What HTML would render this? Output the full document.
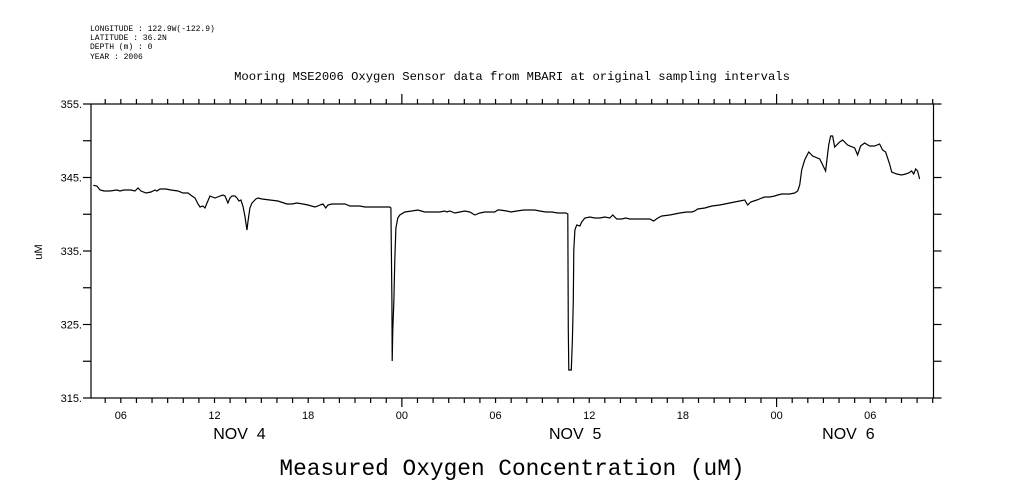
<!DOCTYPE html>
<html><head><meta charset="utf-8"><style>
body{margin:0;background:#fff;}
svg{display:block;font-family:"Liberation Sans",sans-serif;}
</style></head><body>
<svg id="chart" width="1009" height="504" viewBox="0 0 1009 504">
<g font-size="8" fill="#000" font-family="Liberation Mono, monospace">
<text x="90" y="31">LONGITUDE : 122.9W(-122.9)</text>
<text x="90" y="40">LATITUDE : 36.2N</text>
<text x="90" y="49">DEPTH (m) : 0</text>
<text x="90" y="59">YEAR : 2006</text>
</g>
<text x="512" y="80" text-anchor="middle" font-size="12.2" font-family="Liberation Mono, monospace">Mooring MSE2006 Oxygen Sensor data from MBARI at original sampling intervals</text>
<text x="512" y="475" text-anchor="middle" font-size="22.8" font-family="Liberation Mono, monospace">Measured Oxygen Concentration (uM)</text>
<text transform="translate(42,252) rotate(-90)" text-anchor="middle" font-size="11">uM</text>
<g id="axes"></g>
<g id="series"></g>
</svg>
<script>
const times=[4.24,4.47,4.67,4.92,5.31,5.75,5.95,6.20,6.65,6.91,7.10,7.29,7.61,7.93,8.19,8.31,8.51,8.89,9.21,9.66,9.98,10.30,10.56,10.75,10.94,11.07,11.26,11.39,11.52,11.71,12.03,12.35,12.54,12.67,12.86,12.99,13.12,13.31,13.44,13.57,13.69,13.82,13.95,14.01,14.08,14.14,14.27,14.40,14.65,14.78,15.04,15.55,16.06,16.25,16.64,16.96,17.28,17.66,17.98,18.43,18.62,18.75,18.94,19.13,19.26,19.52,20.03,20.35,20.67,21.31,21.63,21.95,22.59,23.23,23.30,23.36,23.38,23.42,23.49,23.55,23.62,23.74,23.87,24.19,24.64,25.02,25.47,25.92,26.43,26.75,26.88,27.07,27.39,27.71,28.03,28.35,28.67,28.99,29.31,29.63,29.95,30.14,30.27,30.72,30.98,31.36,31.81,32.19,32.51,32.83,33.22,33.60,33.99,34.50,34.63,34.66,34.69,34.85,34.92,34.98,35.01,35.08,35.20,35.40,35.52,35.72,36.04,36.36,36.68,37.00,37.32,37.51,37.76,38.08,38.34,38.60,39.24,39.88,40.13,40.39,40.65,41.16,41.80,42.25,42.57,42.76,42.95,43.40,43.85,44.36,45.00,45.64,45.96,46.15,46.34,46.73,47.05,47.24,47.56,47.88,48.07,48.33,48.84,49.16,49.35,49.48,49.61,49.80,50.06,50.31,50.76,50.89,51.14,51.34,51.46,51.59,51.72,52.04,52.23,52.55,53.00,53.19,53.38,53.64,53.96,54.28,54.60,54.79,54.98,55.24,55.37,55.69,56.01,56.26,56.46,56.65,56.78,56.91,57.03,57.16];
const oxygen=[343.94,343.84,343.30,343.16,343.16,343.30,343.16,343.30,343.30,343.16,343.57,343.16,342.89,343.03,343.30,343.16,343.44,343.44,343.30,343.16,342.89,342.89,342.48,342.21,341.40,340.99,341.12,340.85,341.53,342.48,342.21,342.48,342.62,342.48,341.53,342.21,342.48,342.48,342.21,341.80,341.94,341.12,339.76,338.81,337.86,338.95,340.85,341.53,342.08,342.21,342.08,341.94,341.80,341.67,341.40,341.40,341.53,341.40,341.26,340.99,341.12,341.26,341.40,340.85,341.26,341.40,341.40,341.40,341.12,341.12,340.99,340.99,340.99,340.99,340.85,328.33,320.04,324.25,328.33,333.78,338.13,339.49,339.90,340.31,340.44,340.58,340.31,340.31,340.31,340.44,340.31,340.44,340.17,340.31,340.44,340.31,339.90,340.17,340.31,340.31,340.31,340.58,340.58,340.44,340.31,340.44,340.58,340.58,340.58,340.44,340.31,340.31,340.17,340.17,340.04,324.25,318.81,318.81,322.89,328.33,335.14,337.86,338.54,338.40,338.95,339.49,339.63,339.49,339.49,339.63,339.49,339.90,339.36,339.36,339.49,339.36,339.36,339.36,339.08,339.49,339.76,339.90,340.17,340.31,340.31,340.44,340.71,340.85,341.12,341.26,341.53,341.80,341.94,341.26,341.67,341.94,342.21,342.35,342.35,342.48,342.62,342.76,342.76,342.89,343.16,343.98,346.02,347.39,348.47,347.93,347.52,346.98,345.89,349.42,350.65,350.65,349.15,349.83,350.10,349.42,349.02,348.06,349.29,349.69,349.29,349.29,349.56,348.74,348.47,346.84,345.75,345.48,345.34,345.48,345.61,345.89,345.48,346.16,345.89,344.80];
const yTicks=[315,325,335,345,355];
const yTickLabels=["315.","325.","335.","345.","355."];
const xLabelHours=[6,12,18,24,30,36,42,48,54];
const xLabels=["06","12","18","00","06","12","18","00","06"];
const dayHours=[13.6,35.1,52.6];
const dayLabels=["NOV  4","NOV  5","NOV  6"];
const xMin=4.09,xMax=58.05,yMin=315,yMax=355;
const L=91,R=933.5,T=104,B=398;
const NS="http://www.w3.org/2000/svg";
function xs(h){return L+(h-xMin)/(xMax-xMin)*(R-L);}
function ys(v){return B-(v-yMin)/(yMax-yMin)*(B-T);}
function mk(tag,attrs,parent){const e=document.createElementNS(NS,tag);for(const k in attrs)e.setAttribute(k,attrs[k]);parent.appendChild(e);return e;}
const ax=document.getElementById('axes');
let f=mk('rect',{x:L,y:T,width:R-L,height:B-T,fill:'none',stroke:'#000','stroke-width':1.2},ax);


for(let v=yMin;v<=yMax;v+=5){
 let t=mk('line',{x1:L-8,x2:L,y1:ys(v),y2:ys(v),stroke:'#000','stroke-width':1.2},ax);
 
 
 let t2=mk('line',{x1:R,x2:R+8,y1:ys(v),y2:ys(v),stroke:'#000','stroke-width':1.2},ax);
 
 
}
yTicks.forEach((v,i)=>{
 let tx=mk('text',{x:L-9,y:ys(v)+4,'text-anchor':'end','font-size':11},ax);
 tx.textContent=yTickLabels[i];
 
 
});
for(let h=Math.ceil(xMin);h<=xMax;h++){
 const big=(h%24===0);
 let t=mk('line',{x1:xs(h),x2:xs(h),y1:T-(big?10:5),y2:T,stroke:'#000','stroke-width':1.2},ax);
 
 
 let b=mk('line',{x1:xs(h),x2:xs(h),y1:B,y2:B+(big?9:5),stroke:'#000','stroke-width':1.2},ax);
 
 
}
xLabelHours.forEach((h,i)=>{
 let tx=mk('text',{x:xs(h),y:419,'text-anchor':'middle','font-size':11},ax);
 tx.textContent=xLabels[i];
 
 
});
dayHours.forEach((h,i)=>{
 let tx=mk('text',{x:xs(h),y:439,'text-anchor':'middle','font-size':16},ax);
 tx.style.whiteSpace='pre';
 tx.textContent=dayLabels[i];
 
 
});
const pts=times.map((h,i)=>xs(h).toFixed(1)+','+ys(oxygen[i]).toFixed(1)).join(' ');
let pl=mk('polyline',{points:pts,fill:'none',stroke:'#000','stroke-width':1.2},document.getElementById('series'));


</script>
</body></html>
